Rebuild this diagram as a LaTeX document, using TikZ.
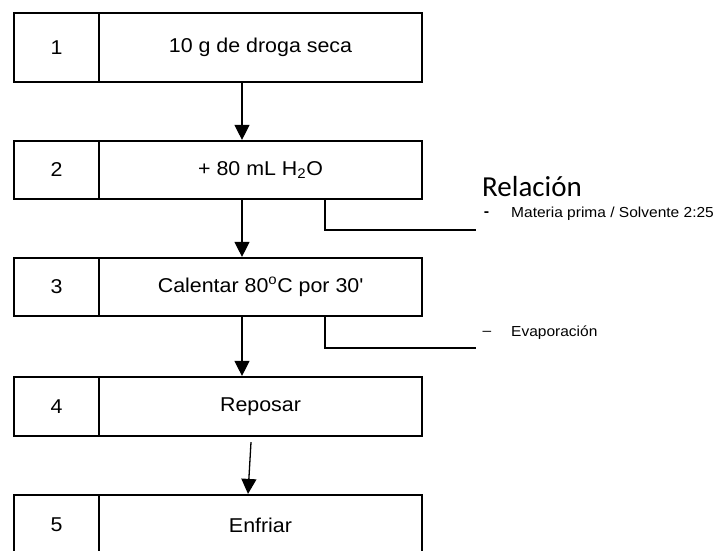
\documentclass[tikz,border=0pt]{standalone}
\usepackage{fontspec}
\setmainfont{Liberation Sans}[FakeStretch=1.07]
\newfontfamily\califont{Carlito}
\usetikzlibrary{arrows.meta}
\begin{document}
\begin{tikzpicture}[x=1pt,y=-1pt,
  cell/.style={draw=black,line width=2.2pt,minimum height=#1,inner sep=0pt,font=\fontsize{20}{24}\selectfont},
  numcell/.style={cell=#1,minimum width=85pt},
  txtcell/.style={cell=#1,minimum width=323pt},
  flow/.style={line width=1.3pt,-{Triangle[width=15pt,length=15pt]}},
  side/.style={line width=1.3pt},
  note/.style={inner sep=0pt,font=\fontsize{14.5}{17}\selectfont}]
\useasboundingbox[fill=white] (0,0) rectangle (717,550);
% boxes
\node[numcell=69pt] (n1) at (56.5,47.5) {1};
\node[txtcell=69pt] (t1) at (260.5,47.5) {10 g de droga seca};
\node[numcell=58pt] (n2) at (56.5,170) {2};
\node[txtcell=58pt] (t2) at (260.5,170) {+ 80 mL H\textsubscript{2}O};
\node[numcell=58pt] (n3) at (56.5,287) {3};
\node[txtcell=58pt] (t3) at (260.5,287) {Calentar 80\textsuperscript{o}C por 30\textquotesingle};
\node[numcell=59pt] (n4) at (56.5,406.5) {4};
\node[txtcell=59pt] (t4) at (260.5,406.5) {Reposar};
\node[numcell=60pt] (n5) at (56.5,525) {5};
\node[txtcell=60pt] (t5) at (260.5,525) {Enfriar};
% arrows
\draw[flow] ([xshift=-18.5pt]t1.south) -- ([xshift=-18.5pt]t2.north);
\draw[flow] ([xshift=-18.5pt]t2.south) -- ([xshift=-18.5pt]t3.north);
\draw[flow] ([xshift=-18.5pt]t3.south) -- ([xshift=-18.5pt]t4.north);
\draw[flow] ([xshift=-9.5pt,yshift=-5pt]t4.south) -- ([xshift=-12.5pt]t5.north);
% side notes
\coordinate (r1) at (476,230);
\coordinate (r2) at (476,348);
\draw[side] ([xshift=64.5pt]t2.south) |- (r1);
\draw[side] ([xshift=64.5pt]t3.south) |- (r2);
\node[anchor=base west,inner sep=0pt,font=\califont\fontsize{29}{34}\selectfont] (rel) at (482,196) {Relación};
\node[note,font=\bfseries\fontsize{15}{18}\selectfont] (d1) at (486.5,214) {-};
\node[note,anchor=west] (mp) at (511,214) {Materia prima / Solvente 2:25};
\node[note] (d2) at (487,333) {–};
\node[note,anchor=west] (ev) at (511,333) {Evaporación};
\end{tikzpicture}
\end{document}
